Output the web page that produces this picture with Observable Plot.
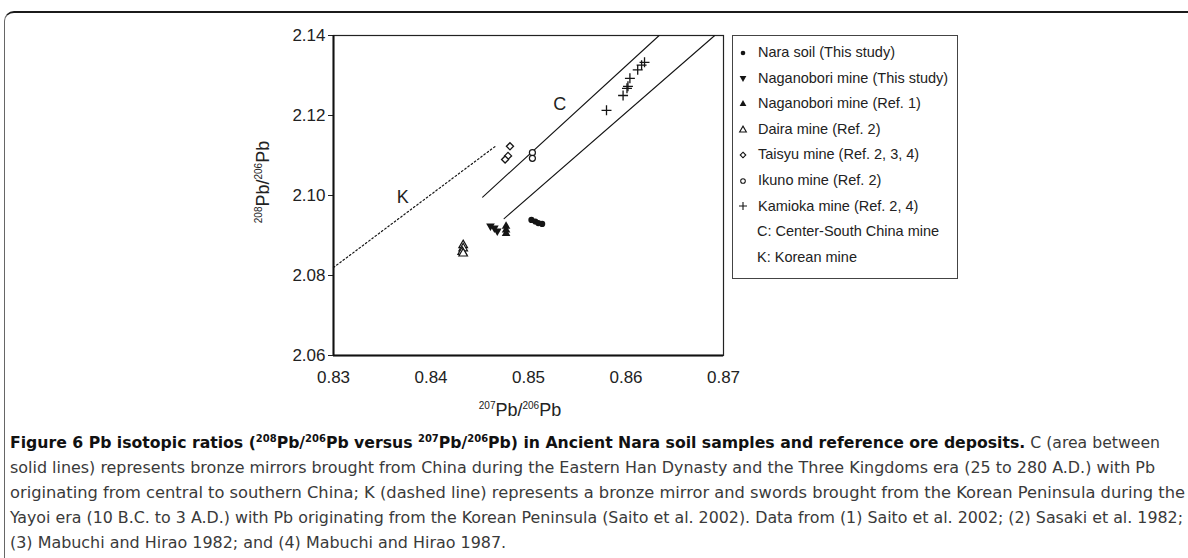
<!DOCTYPE html>
<html>
<head>
<meta charset="utf-8">
<script src="https://cdn.jsdelivr.net/npm/d3@7"></script>
<script src="https://cdn.jsdelivr.net/npm/@observablehq/plot@0.6"></script>
<style>
  html, body { margin: 0; padding: 0; background: #fff; }
  body { width: 1188px; height: 558px; overflow: hidden; position: relative;
         font-family: "Liberation Sans", Arial, Helvetica, sans-serif; color: #222; }
  #frame { position: absolute; left: 4px; top: 11px; width: 1220px; height: 600px;
           border-top: 2.5px solid #1b1b1b; border-left: 1.2px solid #666;
           border-top-left-radius: 10px; box-sizing: border-box; }
  #chart { position: absolute; left: 0; top: 0; }
  .axt { position: absolute; font-size: 18px; color: #222; white-space: nowrap; line-height: 1; }
  .axt sup { font-size: 10px; vertical-align: 0; position: relative; top: -7px; }
  #xt { left: 520px; top: 410px; transform: translate(-50%, -50%); }
  #yt { left: 263px; top: 182px; transform: translate(-50%, -50%) rotate(-90deg); }
  #legend { position: absolute; left: 732px; top: 35px; width: 226px; height: 244px;
            border: 1px solid #444; box-sizing: border-box; font-size: 14.5px; color: #222;
            padding-top: 4px; }
  .li { position: relative; height: 25.6px; line-height: 25.6px; white-space: nowrap; }
  .li svg { position: absolute; left: 4px; top: 7.8px; }
  .li span { position: absolute; left: 25px; }
  .li.nm span { left: 24px; }
  #caption { position: absolute; left: 10px; top: 430px;
             font-family: "Liberation Sans Narrow", "DejaVu Sans Condensed", "Liberation Sans", Arial, sans-serif;
             font-size: 16.5px; color: #3a3a3a; }
  .cl { height: 25px; line-height: 25px; white-space: nowrap; transform-origin: 0 50%; width: max-content; }
  .cl b { color: #111; }
  .cl sup { font-size: 10.5px; vertical-align: 0; position: relative; top: -6px; }
</style>
</head>
<body>
<div id="frame"></div>
<div id="chart"></div>
<div class="axt" id="xt"><sup>207</sup>Pb/<sup>206</sup>Pb</div>
<div class="axt" id="yt"><sup>208</sup>Pb/<sup>206</sup>Pb</div>
<div id="legend"></div>
<div id="caption">
  <div class="cl"><b>Figure 6 Pb isotopic ratios (<sup>208</sup>Pb/<sup>206</sup>Pb versus <sup>207</sup>Pb/<sup>206</sup>Pb) in Ancient Nara soil samples and reference ore deposits.</b> C (area between</div>
  <div class="cl">solid lines) represents bronze mirrors brought from China during the Eastern Han Dynasty and the Three Kingdoms era (25 to 280 A.D.) with Pb</div>
  <div class="cl">originating from central to southern China; K (dashed line) represents a bronze mirror and swords brought from the Korean Peninsula during the</div>
  <div class="cl">Yayoi era (10 B.C. to 3 A.D.) with Pb originating from the Korean Peninsula (Saito et al. 2002). Data from (1) Saito et al. 2002; (2) Sasaki et al. 1982;</div>
  <div class="cl">(3) Mabuchi and Hirao 1982; and (4) Mabuchi and Hirao 1987.</div>
</div>
<script>
// ---- Data (207Pb/206Pb, 208Pb/206Pb) ----
const naraSoil = [[0.8503, 2.0939], [0.8507, 2.0935], [0.8510, 2.0931], [0.8514, 2.0929]];
const naganoboriThisStudy = [[0.8461, 2.0924], [0.8465, 2.0919], [0.8468, 2.0911]];
const naganoboriRef1 = [[0.8477, 2.0923], [0.8477, 2.0914], [0.8477, 2.0905]];
const dairaMine = [[0.8433, 2.0876], [0.8433, 2.0868], [0.8432, 2.0859], [0.8433, 2.0855]];
const taisyuMine = [[0.8481, 2.1123], [0.8479, 2.1099], [0.8476, 2.1090]];
const ikunoMine = [[0.8504, 2.1107], [0.8504, 2.1093]];
const kamiokaMine = [[0.8580, 2.1213], [0.8597, 2.1250], [0.8601, 2.1268], [0.8602, 2.1273],
                     [0.8604, 2.1293], [0.8612, 2.1314], [0.8616, 2.1326], [0.8619, 2.1333]];
const chinaLineUpper = [[0.8453, 2.0996], [0.8634, 2.1400]];
const chinaLineLower = [[0.8475, 2.0942], [0.8691, 2.1400]];
const koreaLine = [[0.8300, 2.0820], [0.8466, 2.1123]];
const regionLabels = [{name: "C", x: 0.8532, y: 2.1229}, {name: "K", x: 0.8371, y: 2.0995}];
const xTicks = [0.83, 0.84, 0.85, 0.86, 0.87];
const yTicks = [2.06, 2.08, 2.10, 2.12, 2.14];
const legendItems = [
  {label: "Nara soil (This study)", symbol: "circle", fill: true, rotate: 0},
  {label: "Naganobori mine (This study)", symbol: "triangle", fill: true, rotate: 180},
  {label: "Naganobori mine (Ref. 1)", symbol: "triangle", fill: true, rotate: 0},
  {label: "Daira mine (Ref. 2)", symbol: "triangle", fill: false, rotate: 0},
  {label: "Taisyu mine (Ref. 2, 3, 4)", symbol: "diamond2", fill: false, rotate: 0},
  {label: "Ikuno mine (Ref. 2)", symbol: "circle", fill: false, rotate: 0},
  {label: "Kamioka mine (Ref. 2, 4)", symbol: "plus", fill: false, rotate: 0},
  {label: "C: Center-South China mine", symbol: null},
  {label: "K: Korean mine", symbol: null}
];

const px = d => d[0], py = d => d[1];
const ink = "#151515";

const chart = Plot.plot({
  width: 740, height: 430,
  marginLeft: 333, marginRight: 17, marginTop: 35, marginBottom: 75,
  x: {domain: [0.83, 0.87]},
  y: {domain: [2.06, 2.14]},
  style: {fontFamily: "'Liberation Sans', Arial, sans-serif", fontSize: "17px", color: "#222", background: "transparent", overflow: "visible"},
  marks: [
    Plot.axisX({ticks: xTicks, tickSize: 0, tickPadding: 15, tickFormat: ".2f", label: null, fontSize: 17}),
    Plot.axisY({ticks: yTicks, tickSize: 5, tickPadding: 3, tickFormat: ".2f", label: null, fontSize: 17, stroke: "#222"}),
    Plot.frame({stroke: "#222", strokeWidth: 1.2}),
    Plot.ruleX([0.83], {stroke: "#111", strokeWidth: 2}),
    Plot.ruleY([2.06], {stroke: "#111", strokeWidth: 2}),
    Plot.line(chinaLineUpper, {x: px, y: py, stroke: ink, strokeWidth: 1.1}),
    Plot.line(chinaLineLower, {x: px, y: py, stroke: ink, strokeWidth: 1.1}),
    Plot.line(koreaLine, {x: px, y: py, stroke: ink, strokeWidth: 1.2, strokeDasharray: "1.6,2.4"}),
    Plot.text(regionLabels, {x: "x", y: "y", text: "name", fontSize: 18, fill: "#222"}),
    Plot.dot(naraSoil, {x: px, y: py, symbol: "circle", r: 3.1, fill: ink, stroke: "none"}),
    Plot.dot(naganoboriThisStudy, {x: px, y: py, symbol: "triangle", rotate: 180, r: 3.2, fill: ink, stroke: "none"}),
    Plot.dot(naganoboriRef1, {x: px, y: py, symbol: "triangle", r: 3.2, fill: ink, stroke: "none"}),
    Plot.dot(dairaMine, {x: px, y: py, symbol: "triangle", r: 3.2, fill: "white", stroke: ink, strokeWidth: 1.2}),
    Plot.dot(taisyuMine, {x: px, y: py, symbol: "diamond2", r: 3.2, fill: "white", stroke: ink, strokeWidth: 1.3}),
    Plot.dot(ikunoMine, {x: px, y: py, symbol: "circle", r: 3, fill: "white", stroke: ink, strokeWidth: 1.2}),
    Plot.dot(kamiokaMine, {x: px, y: py, symbol: "plus", r: 3.3, stroke: ink, strokeWidth: 1.3})
  ]
});
document.getElementById("chart").appendChild(chart);

// ---- Legend ----
const symMap = {circle: d3.symbolCircle, triangle: d3.symbolTriangle, diamond2: d3.symbolDiamond2, plus: d3.symbolPlus};
const leg = d3.select("#legend");
for (const it of legendItems) {
  const row = leg.append("div").attr("class", "li" + (it.symbol ? "" : " nm"));
  if (it.symbol) {
    const s = row.append("svg").attr("width", 12).attr("height", 10);
    const r = it.symbol === "plus" ? 2.7 : (it.symbol === "circle" ? 2.3 : 2.5);
    s.append("path")
      .attr("d", d3.symbol(symMap[it.symbol], Math.PI * r * r)())
      .attr("transform", `translate(6,5) rotate(${it.rotate})`)
      .attr("fill", it.fill ? ink : (it.symbol === "plus" ? "none" : "white"))
      .attr("stroke", it.fill ? "none" : ink)
      .attr("stroke-width", 1.1);
    row.append("span").text(it.label);
  } else {
    row.append("span").text(it.label);
  }
}

// ---- Caption: fit each line to its measured width in the reference ----
const lineWidths = [1150, 1145, 1175, 1173, null];
const lines = document.querySelectorAll(".cl");
let scales = [];
lines.forEach((el, i) => {
  const w = el.getBoundingClientRect().width;
  if (lineWidths[i]) { const k = lineWidths[i] / w; scales.push(k); el.style.transform = `scaleX(${k})`; }
});
const avg = scales.reduce((a, b) => a + b, 0) / scales.length;
lines[4].style.transform = `scaleX(${avg})`;
</script>
</body>
</html>
